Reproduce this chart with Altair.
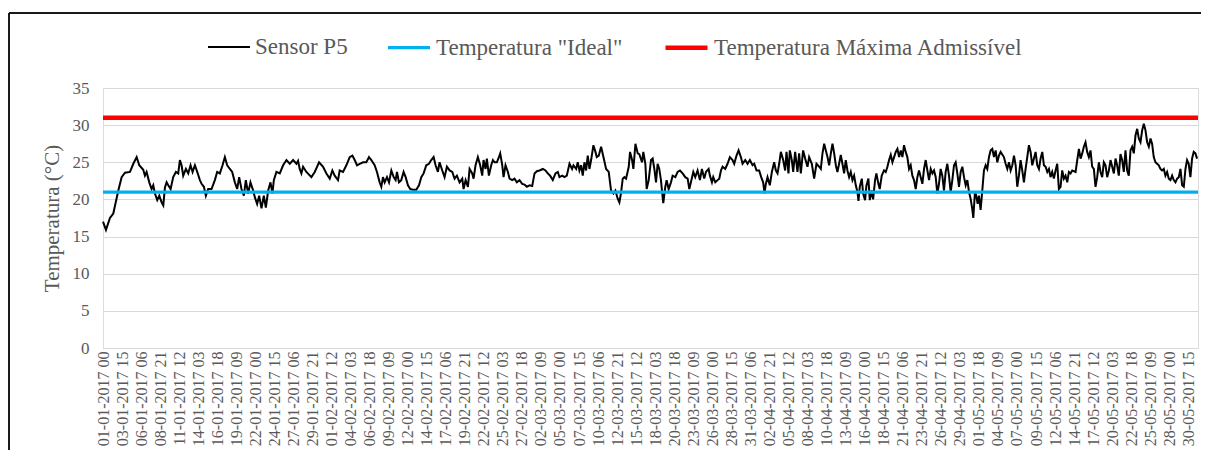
import json
import altair as alt
import pandas as pd

# ---------------- data ----------------
# (days since 01-01-2017 00h, temperature °C) for sensor P5
jan = [(0, 17.0), (0.41, 15.9), (0.96, 17.5), (1.42, 18.1), (2.11, 21.2), (2.57, 23.0), (3.03, 23.6), (3.72, 23.7),
       (4.18, 24.8), (4.64, 25.7), (5.0, 24.6), (5.55, 24.0), (5.78, 23.2), (6.01, 23.7), (6.38, 22.3), (6.7, 21.4),
       (6.93, 21.9), (7.16, 20.8), (7.48, 19.9), (7.76, 20.5), (8.08, 19.6), (8.31, 19.2), (8.54, 21.6), (8.77, 22.3),
       (9.0, 21.9), (9.32, 21.4), (9.68, 23.0), (10.05, 23.7), (10.37, 23.5), (10.6, 25.3), (10.83, 24.6), (11.06, 23.2),
       (11.43, 24.1), (11.75, 23.5), (12.07, 24.6), (12.35, 23.7), (12.67, 24.6), (12.99, 23.7), (13.36, 22.6),
       (13.59, 22.1), (13.91, 21.7), (14.18, 20.5), (14.5, 21.4), (14.96, 21.4), (15.42, 22.6), (15.74, 23.7),
       (16.11, 23.5), (16.48, 24.6), (16.8, 25.7), (17.12, 24.6), (17.49, 24.1), (17.81, 23.7), (18.18, 22.3),
       (18.5, 21.4), (18.77, 23.0), (19.09, 21.4), (19.42, 20.5), (19.69, 22.6), (20.01, 20.8), (20.33, 22.3),
       (20.7, 21.2), (20.93, 20.3), (21.25, 19.4), (21.53, 20.5), (21.85, 18.8), (22.17, 20.5), (22.45, 18.9),
       (22.77, 21.2), (23.09, 22.3), (23.36, 20.8), (23.55, 22.6), (23.91, 23.7), (24.37, 23.5), (24.83, 24.6),
       (25.29, 25.3), (25.75, 24.8), (26.21, 25.3), (26.67, 24.8), (26.89, 25.2), (27.12, 24.1), (27.35, 23.5),
       (27.58, 24.4), (28.04, 23.7), (28.73, 23.0), (29.19, 23.7), (29.79, 25.0), (30.34, 24.4), (30.8, 23.5)]
feb = [(31.26, 22.8), (31.62, 23.9), (31.94, 23.2), (32.4, 22.6), (32.63, 23.9), (33.09, 23.7), (33.55, 24.6),
       (34.01, 25.7), (34.38, 25.9), (34.7, 25.3), (35.02, 24.6), (35.39, 24.8), (35.85, 25.0), (36.3, 25.0),
       (36.67, 25.7), (36.99, 25.3), (37.45, 24.6), (37.77, 23.7), (38.14, 22.3), (38.37, 21.7), (38.6, 23.0),
       (38.83, 22.3), (39.15, 23.0), (39.43, 22.3), (39.75, 23.9), (40.07, 23.0), (40.34, 22.6), (40.53, 23.7),
       (40.8, 22.3), (41.12, 22.6), (41.44, 23.7), (41.72, 23.0), (42.04, 21.9), (42.36, 21.4), (42.73, 21.3),
       (43.19, 21.3), (43.56, 21.9), (43.88, 23.0), (44.2, 23.5), (44.57, 24.6), (44.93, 24.8), (45.25, 25.3),
       (45.58, 25.7), (45.85, 24.6), (46.17, 23.7), (46.4, 25.0), (46.77, 23.9), (47.09, 23.0), (47.41, 24.4),
       (47.78, 23.9), (48.15, 23.7), (48.47, 22.8), (48.79, 23.2), (49.16, 22.3), (49.53, 22.8), (49.71, 21.4),
       (49.99, 22.6), (50.31, 21.7), (50.54, 24.1), (50.9, 23.5), (51.09, 22.8), (51.36, 24.6), (51.68, 25.7),
       (52.0, 24.6), (52.28, 23.2), (52.46, 25.3), (52.74, 24.1), (52.92, 25.5), (53.2, 23.2), (53.52, 24.6),
       (53.75, 25.3), (53.98, 25.0), (54.3, 25.0), (54.58, 25.7), (54.76, 26.2), (55.04, 24.6), (55.22, 23.0),
       (55.49, 24.6), (55.82, 23.7), (56.05, 22.8), (56.41, 22.6), (56.73, 22.8), (57.05, 22.3), (57.42, 22.6),
       (57.79, 22.1), (58.11, 22.0), (58.43, 21.7), (58.8, 21.9)]
mar = [(59.17, 21.8), (59.49, 23.5), (59.81, 23.8), (60.18, 23.9), (60.64, 24.1), (61.0, 23.9), (61.32, 23.5),
       (61.64, 23.2), (62.01, 22.6), (62.38, 23.5), (62.7, 23.7), (62.93, 23.0), (63.3, 23.2), (63.62, 23.0),
       (63.94, 23.2), (64.31, 24.8), (64.67, 24.1), (64.86, 24.6), (65.23, 24.1), (65.45, 25.0), (65.68, 23.9),
       (65.91, 24.6), (66.14, 23.2), (66.37, 25.0), (66.6, 23.9), (66.83, 25.9), (67.06, 24.1), (67.29, 25.3),
       (67.61, 27.3), (67.89, 26.4), (68.07, 25.7), (68.35, 25.9), (68.67, 27.1), (68.99, 25.7), (69.36, 24.1),
       (69.72, 23.7), (70.04, 21.2), (70.37, 20.8), (70.64, 21.2), (70.96, 20.1), (71.19, 19.6), (71.42, 20.9),
       (71.65, 22.8), (71.88, 23.0), (72.11, 22.8), (72.48, 24.4), (72.66, 26.4), (72.94, 25.3), (73.12, 24.1),
       (73.4, 27.5), (73.72, 26.2), (73.94, 26.1), (74.31, 25.0), (74.49, 26.4), (74.77, 24.8), (74.95, 21.4),
       (75.23, 22.6), (75.55, 25.3), (75.78, 25.5), (76.01, 24.1), (76.24, 22.3), (76.46, 24.8), (76.69, 24.1),
       (76.92, 22.6), (77.06, 21.2), (77.24, 19.5), (77.52, 21.7), (77.7, 22.6), (77.98, 21.4), (78.3, 22.3),
       (78.53, 23.2), (78.9, 23.0), (79.22, 23.7), (79.54, 23.9), (79.91, 23.5), (80.27, 23.0), (80.6, 22.8),
       (80.83, 21.4), (81.05, 22.3), (81.38, 23.7), (81.65, 23.0), (81.97, 23.9), (82.29, 22.6), (82.57, 24.1),
       (82.89, 22.8), (83.12, 23.7), (83.49, 24.1), (83.67, 23.2), (83.95, 22.3), (84.13, 23.0), (84.41, 22.3),
       (84.73, 22.6), (84.96, 22.8), (85.19, 23.9), (85.42, 24.4), (85.78, 24.1), (86.1, 24.8), (86.42, 25.7),
       (86.79, 25.3), (87.02, 24.8), (87.34, 25.9), (87.62, 26.6), (87.94, 25.7), (88.17, 24.8), (88.54, 25.3),
       (88.86, 24.8), (89.18, 25.3), (89.55, 24.6), (89.78, 24.8)]
apr = [(90.1, 23.9), (90.46, 23.9), (90.74, 23.0), (91.01, 22.3), (91.2, 20.8), (91.38, 22.1), (91.61, 23.0),
       (91.93, 21.9), (92.21, 23.7), (92.53, 25.0), (92.76, 23.9), (92.99, 23.5), (93.22, 24.8), (93.45, 26.4),
       (93.77, 25.3), (94.04, 23.9), (94.23, 26.4), (94.5, 23.5), (94.69, 26.6), (94.96, 25.3), (95.15, 23.7),
       (95.42, 26.4), (95.74, 23.7), (95.97, 26.2), (96.2, 23.5), (96.52, 26.6), (96.8, 25.5), (97.12, 24.4),
       (97.35, 25.7), (97.72, 24.8), (98.04, 22.8), (98.36, 24.8), (98.73, 24.4), (98.96, 24.1), (99.19, 26.2),
       (99.42, 27.5), (99.65, 26.6), (99.88, 25.7), (100.11, 24.6), (100.34, 26.2), (100.57, 27.5), (100.8, 26.2),
       (101.03, 24.6), (101.25, 23.7), (101.48, 24.8), (101.71, 26.0), (101.94, 24.8), (102.17, 23.5),
       (102.4, 25.3), (102.63, 23.9), (102.86, 23.0), (103.09, 23.7), (103.32, 22.6), (103.55, 23.2),
       (103.78, 21.9), (104.01, 21.0), (104.15, 19.8), (104.33, 21.7), (104.61, 22.8), (104.79, 20.8),
       (105.06, 19.9), (105.25, 21.9), (105.52, 22.8), (105.71, 19.9), (105.98, 21.2), (106.17, 20.0),
       (106.44, 22.6), (106.62, 23.5), (106.9, 22.1), (107.08, 21.4), (107.36, 23.2), (107.68, 23.9),
       (107.91, 23.7), (108.14, 24.4), (108.37, 25.3), (108.6, 26.0), (108.83, 25.0), (109.06, 25.7),
       (109.29, 26.4), (109.52, 26.8), (109.75, 25.7), (109.98, 26.6), (110.21, 25.7), (110.43, 27.3),
       (110.66, 26.4), (110.89, 25.7), (111.12, 24.1), (111.35, 24.6), (111.58, 23.2), (111.81, 22.6),
       (112.04, 21.4), (112.27, 23.0), (112.5, 23.9), (112.73, 23.0), (112.96, 22.1), (113.19, 24.1),
       (113.42, 25.3), (113.65, 23.9), (113.88, 22.6), (114.11, 24.1), (114.34, 23.5), (114.57, 23.9),
       (114.8, 23.0), (115.02, 20.8), (115.25, 22.1), (115.48, 24.1), (115.71, 23.2), (115.94, 21.2),
       (116.17, 23.7), (116.4, 24.8), (116.63, 23.2), (116.86, 21.0), (117.09, 22.6), (117.32, 24.6),
       (117.55, 25.0), (117.78, 23.5), (118.01, 21.7), (118.24, 23.7), (118.47, 24.4), (118.7, 23.0),
       (118.93, 21.9), (119.16, 22.6), (119.39, 21.0), (119.61, 20.1), (119.84, 18.7), (119.98, 17.5)]
may = [(120.21, 21.0), (120.39, 20.5), (120.58, 19.4), (120.76, 20.5), (120.99, 18.6), (121.22, 21.2),
       (121.45, 23.9), (121.68, 24.6), (121.91, 24.1), (122.14, 25.7), (122.37, 26.6), (122.6, 26.8),
       (122.83, 25.7), (123.06, 26.6), (123.29, 25.0), (123.52, 25.9), (123.75, 26.4), (124.2, 25.7),
       (124.44, 24.8), (124.67, 24.1), (124.9, 25.0), (125.13, 23.9), (125.36, 24.6), (125.59, 25.9),
       (125.82, 24.6), (126.04, 21.7), (126.27, 23.2), (126.5, 25.3), (126.73, 23.9), (126.96, 22.3),
       (127.19, 24.1), (127.42, 25.7), (127.65, 27.3), (127.88, 26.4), (128.11, 24.6), (128.34, 25.5),
       (128.57, 26.4), (128.8, 24.6), (129.03, 24.1), (129.26, 25.5), (129.49, 26.4), (129.72, 24.6),
       (129.95, 24.4), (130.18, 23.7), (130.41, 24.1), (130.63, 23.0), (130.86, 23.7), (131.09, 22.8),
       (131.32, 23.9), (131.55, 24.8), (131.78, 21.4), (132.01, 21.7), (132.24, 23.9), (132.47, 22.8),
       (132.7, 23.2), (132.93, 22.3), (133.16, 23.7), (133.39, 23.5), (133.62, 23.9), (134.08, 23.7),
       (134.31, 25.3), (134.54, 26.8), (134.77, 25.5), (135.0, 26.2), (135.22, 27.1), (135.45, 27.7),
       (135.68, 26.4), (135.91, 25.7), (136.14, 26.6), (136.37, 24.4), (136.6, 24.1), (136.83, 21.7),
       (137.06, 23.0), (137.29, 25.0), (137.52, 23.7), (137.75, 23.0), (137.98, 25.0), (138.21, 24.6),
       (138.44, 23.0), (138.67, 23.9), (138.9, 25.3), (139.13, 24.4), (139.36, 23.5), (139.59, 25.5),
       (139.81, 24.6), (140.04, 23.2), (140.27, 26.1), (140.5, 25.3), (140.73, 23.7), (140.96, 26.6),
       (141.19, 23.9), (141.42, 23.2), (141.65, 26.6), (141.88, 27.1), (142.11, 26.2), (142.34, 28.6),
       (142.57, 29.5), (142.8, 28.2), (143.03, 27.7), (143.26, 29.3), (143.49, 30.2), (143.72, 29.3),
       (143.95, 27.7), (144.18, 27.1), (144.41, 28.2), (144.63, 27.5), (144.86, 25.7), (145.09, 25.0),
       (145.32, 24.8), (145.55, 24.6), (145.78, 24.1), (146.01, 23.9), (146.24, 24.1), (146.47, 23.2),
       (146.7, 23.7), (146.93, 22.8), (147.16, 22.6), (147.39, 23.2), (147.62, 22.6), (147.85, 22.3),
       (148.08, 22.8), (148.31, 23.0), (148.54, 24.1), (148.77, 21.9), (149.0, 21.7), (149.23, 24.1),
       (149.45, 25.3), (149.68, 24.8), (149.91, 23.0), (150.14, 25.5), (150.37, 26.4), (150.6, 26.2),
       (150.83, 25.5)]

tick_labels = [
    "01-01-2017 00", "03-01-2017 15", "06-01-2017 06", "08-01-2017 21", "11-01-2017 12", "14-01-2017 03",
    "16-01-2017 18", "19-01-2017 09", "22-01-2017 00", "24-01-2017 15", "27-01-2017 06", "29-01-2017 21",
    "01-02-2017 12", "04-02-2017 03", "06-02-2017 18", "09-02-2017 09", "12-02-2017 00", "14-02-2017 15",
    "17-02-2017 06", "19-02-2017 21", "22-02-2017 12", "25-02-2017 03", "27-02-2017 18", "02-03-2017 09",
    "05-03-2017 00", "07-03-2017 15", "10-03-2017 06", "12-03-2017 21", "15-03-2017 12", "18-03-2017 03",
    "20-03-2017 18", "23-03-2017 09", "26-03-2017 00", "28-03-2017 15", "31-03-2017 06", "02-04-2017 21",
    "05-04-2017 12", "08-04-2017 03", "10-04-2017 18", "13-04-2017 09", "16-04-2017 00", "18-04-2017 15",
    "21-04-2017 06", "23-04-2017 21", "26-04-2017 12", "29-04-2017 03", "01-05-2017 18", "04-05-2017 09",
    "07-05-2017 00", "09-05-2017 15", "12-05-2017 06", "14-05-2017 21", "17-05-2017 12", "20-05-2017 03",
    "22-05-2017 18", "25-05-2017 09", "28-05-2017 00", "30-05-2017 15",
]
tick_step_hours = 63
last_hour = 3623            # 31-05-2017 23h

series_names = ["Sensor P5", 'Temperatura "Ideal"', "Temperatura Máxima Admissível"]
series_colors = ["#000000", "#00B0F0", "#FF0000"]
series_widths = [2, 4.5, 4.5]
ideal_temp = 21
max_temp = 31

# ---------------- table ----------------
rows = []
for month in (jan, feb, mar, apr, may):
    for d, t in month:
        rows.append({"hora": d * 24, "temp": t, "serie": series_names[0]})
for h in (0, last_hour):
    rows.append({"hora": h, "temp": ideal_temp, "serie": series_names[1]})
for h in (0, last_hour):
    rows.append({"hora": h, "temp": max_temp, "serie": series_names[2]})
df = pd.DataFrame(rows)
df["ordem"] = df["serie"].map({n: i for i, n in enumerate(series_names)})

GRAY = "#595959"
FONT = "Liberation Serif"

label_expr = json.dumps(tick_labels) + "[round(datum.value / %d)]" % tick_step_hours

legend_kw = dict(title=None, orient="none", legendX=104, legendY=-64,
                 direction="horizontal", symbolType="stroke",
                 symbolSize=1764, columnPadding=33, labelOffset=4,
                 labelFontSize=23, labelColor=GRAY, labelFont=FONT,
                 padding=0, labelLimit=600)

lines = alt.Chart(df).mark_line(interpolate="linear").encode(
    x=alt.X("hora:Q",
            scale=alt.Scale(domain=[0, last_hour], nice=False, zero=False),
            axis=alt.Axis(values=[i * tick_step_hours for i in range(len(tick_labels))],
                          labelExpr=label_expr, labelAngle=270, labelFontSize=16,
                          labelColor=GRAY, labelFont=FONT, labelPadding=3,
                          labelOverlap=False, labelFlush=False,
                          ticks=False, grid=False, domainColor="#d9d9d9",
                          title=None)),
    y=alt.Y("temp:Q",
            scale=alt.Scale(domain=[0, 35], nice=False),
            axis=alt.Axis(values=list(range(0, 36, 5)), title="Temperatura (°C)",
                          grid=True, gridColor="#d9d9d9", domain=False, ticks=False,
                          labelPadding=14, labelFontSize=17, labelColor=GRAY, labelFont=FONT,
                          titleFontSize=21, titleColor=GRAY, titleFont=FONT,
                          titleFontWeight="normal", titleX=-51, titleY=130, titleAngle=270,
                          titleAlign="center", titleBaseline="middle")),
    color=alt.Color("serie:N",
                    scale=alt.Scale(domain=series_names, range=series_colors),
                    legend=alt.Legend(**legend_kw)),
    strokeWidth=alt.StrokeWidth("serie:N",
                                scale=alt.Scale(domain=series_names, range=series_widths),
                                legend=alt.Legend(**legend_kw)),
    order=alt.Order("ordem:Q"),
)

frame_df = pd.DataFrame({"k": [0]})
frame_left = alt.Chart(frame_df).mark_rule(color="#1a1a1a", strokeWidth=2).encode(
    x=alt.value(-94), y=alt.value(-75), y2=alt.value(420))
frame_top = alt.Chart(frame_df).mark_rule(color="#1a1a1a", strokeWidth=2).encode(
    x=alt.value(-94), x2=alt.value(1120), y=alt.value(-75))

chart = alt.layer(lines, frame_left, frame_top).properties(
    width=1095, height=260,
    autosize=alt.AutoSizeParams(type="none"),
    padding={"left": 95, "top": 80, "right": 3, "bottom": 102},
).configure_view(stroke=None).configure(font=FONT).configure_axis(
    labelFont=FONT, titleFont=FONT
).configure_legend(labelFont=FONT)

chart.save("out.html", embed_options={"renderer": "svg", "actions": False})
